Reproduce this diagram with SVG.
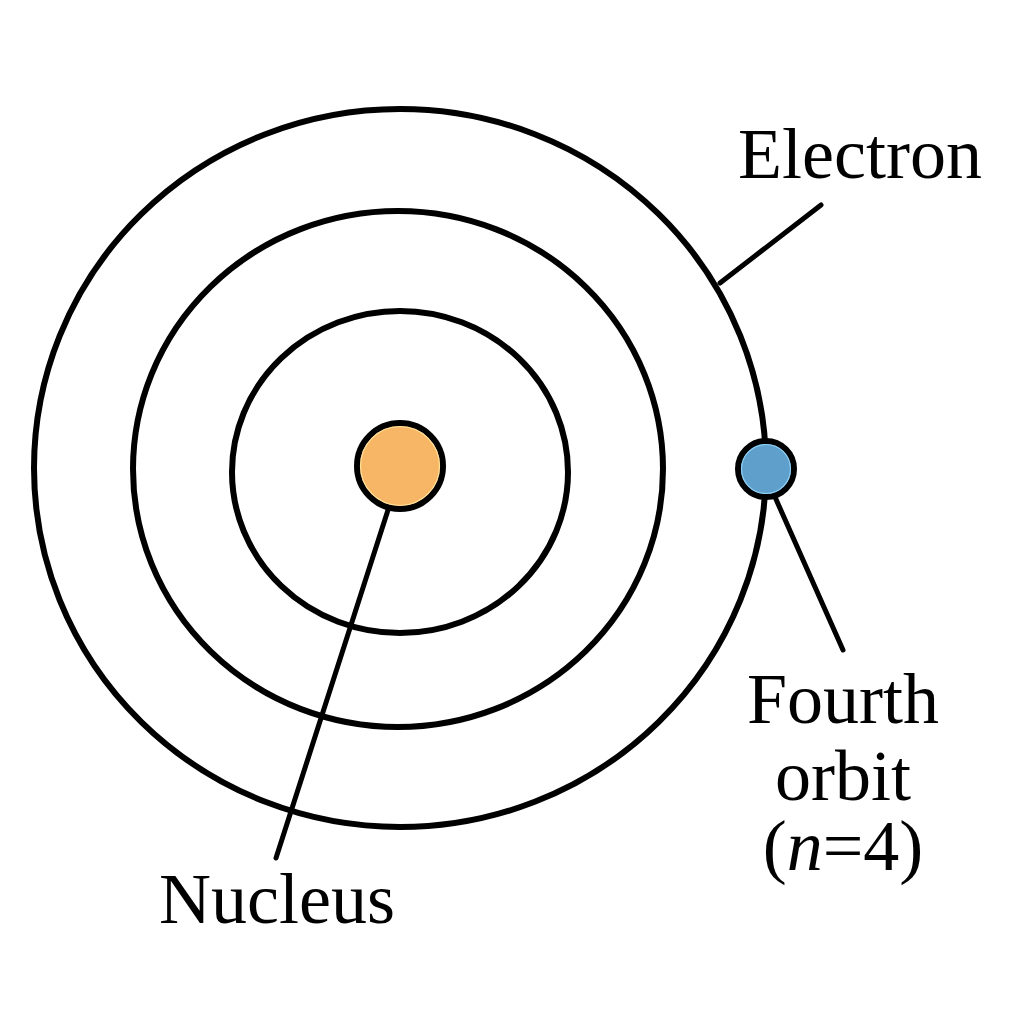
<svg xmlns="http://www.w3.org/2000/svg" width="1024" height="1024" viewBox="0 0 1024 1024">
<style>
.orbit{fill:none;stroke:#000;stroke-width:6}
.lead{stroke:#000;stroke-width:5;stroke-linecap:round;fill:none}
.lbl{font-family:"Liberation Serif","Times New Roman",serif;font-size:72px;fill:#000;text-anchor:middle}
</style>
<rect width="1024" height="1024" fill="#fff"/>
<g id="orbits">
<ellipse id="orbit4" class="orbit" cx="400" cy="468" rx="366" ry="359"/>
<ellipse id="orbit3" class="orbit" cx="398" cy="469" rx="265" ry="258"/>
<ellipse id="orbit2" class="orbit" cx="400" cy="472" rx="168" ry="161"/>
</g>
<g id="connectors">
<line class="lead" x1="388" y1="510" x2="276" y2="858"/>
<line class="lead" x1="720" y1="283" x2="821" y2="205"/>
<line class="lead" x1="775" y1="497" x2="843" y2="650"/>
</g>
<g id="nucleus">
<circle cx="400" cy="466" r="43" fill="#F7B665" stroke="#000" stroke-width="6"/>
<circle cx="400" cy="466" r="39.5" fill="none" stroke="#FFE29A" stroke-width="1.2"/>
</g>
<g id="electron">
<circle cx="766" cy="469" r="28" fill="#5E9FCB" stroke="#000" stroke-width="6"/>
<circle cx="766" cy="469" r="24.5" fill="none" stroke="#8FD0F5" stroke-width="1.2"/>
</g>
<g id="labels">
<text class="lbl" x="860" y="178">Electron</text>
<text class="lbl" x="843" y="723">Fourth</text>
<text class="lbl" x="843" y="800">orbit</text>
<text class="lbl" x="843" y="870">(<tspan font-style="italic">n</tspan>=4)</text>
<text class="lbl" x="277" y="923">Nucleus</text>
</g>
</svg>
